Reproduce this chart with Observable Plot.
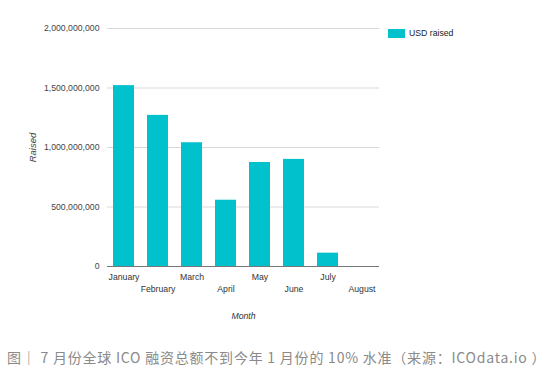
<!DOCTYPE html>
<html>
<head>
<meta charset="utf-8">
<script src="https://cdn.jsdelivr.net/npm/d3@7"></script>
<script src="https://cdn.jsdelivr.net/npm/@observablehq/plot@0.6"></script>
<style>
  html, body { margin: 0; padding: 0; background: #fff; }
  #wrap { position: relative; width: 548px; height: 376px; font-family: "Liberation Sans", Arial, sans-serif; }
  #chart { position: absolute; left: 0; top: 0; }
  #legend { position: absolute; left: 388px; top: 28px; display: flex; align-items: center; font-size: 8.7px; color: #222; }
  #legend .sw { width: 17px; height: 9px; background: #00c1cc; margin-right: 4px; }
  #caption { position: absolute; left: 7px; top: 347px; font-family: "Noto Sans CJK SC", sans-serif; font-size: 14px; color: #8a8a8a; white-space: nowrap; letter-spacing: 0.78px; }
  #chart svg [aria-label="y-axis label"] text, #chart svg [aria-label="x-axis label"] text { font-style: italic; }
  #chart svg [aria-label="y-axis label"] text { font-size: 9.5px; }
</style>
</head>
<body>
<div id="wrap">
  <div id="chart"></div>
  <div id="legend"><div class="sw"></div><span>USD raised</span></div>
  <div id="caption">图｜ 7 月份全球 ICO 融资总额不到今年 1 月份的 10% 水准（来源：ICOdata.io ）</div>
</div>
<script>
const months = ["January", "February", "March", "April", "May", "June", "July", "August"];
const raised = [1520000000, 1270000000, 1040000000, 557000000, 874000000, 900000000, 112000000, 0];
const yTicks = [0, 500000000, 1000000000, 1500000000, 2000000000];
const seriesName = "USD raised";

const data = months.map((m, i) => ({month: m, value: raised[i]}));
const upper = months.filter((d, i) => i % 2 === 0);
const lower = months.filter((d, i) => i % 2 === 1);

const chart = Plot.plot({
  width: 548,
  height: 330,
  marginLeft: 107,
  marginRight: 169,
  marginTop: 28,
  marginBottom: 64,
  style: {fontFamily: "'Liberation Sans', Arial, sans-serif", fontSize: "8.7px", color: "#444", background: "#fff"},
  x: {domain: months, paddingInner: 0.38, paddingOuter: 0.18, label: null},
  y: {domain: [0, 2000000000], label: null},
  marks: [
    Plot.gridY(yTicks, {stroke: "#d9d9d9", strokeOpacity: 1}),
    Plot.barY(data, {x: "month", y: "value", fill: "#00c1cc", title: d => `${seriesName}: ${d.value}`}),
    Plot.ruleY([0], {stroke: "#777"}),
    Plot.axisY({ticks: yTicks, tickSize: 0, tickPadding: 8, tickFormat: d3.format(","), label: "Raised", labelAnchor: "center", labelArrow: "none", labelOffset: 78, fill: "#444"}),
    Plot.axisX({ticks: upper, tickSize: 0, tickPadding: 7, label: null, fill: "#333"}),
    Plot.axisX({ticks: lower, tickSize: 0, tickPadding: 19, label: "Month", labelAnchor: "center", labelArrow: "none", labelOffset: 52, fill: "#333"})
  ]
});
document.getElementById("chart").appendChild(chart);
</script>
</body>
</html>
